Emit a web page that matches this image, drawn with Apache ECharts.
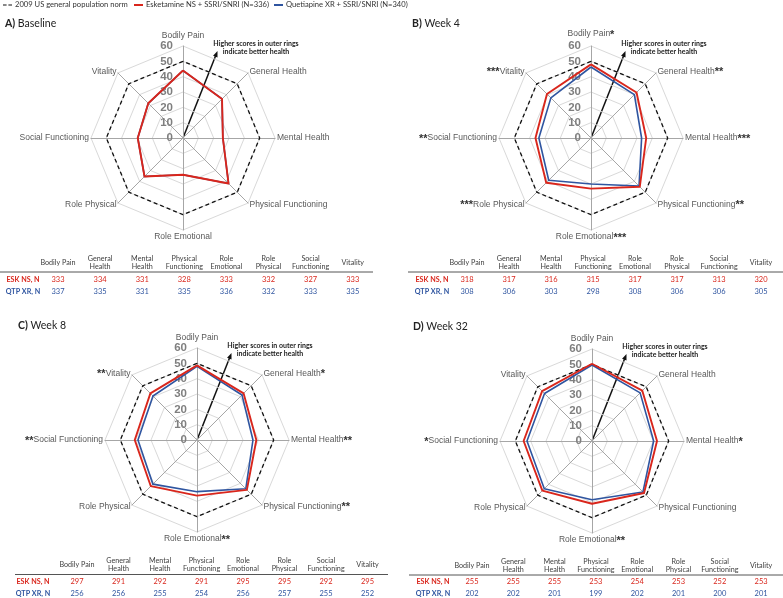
<!DOCTYPE html>
<html>
<head>
<meta charset="utf-8">
<script src="https://cdn.jsdelivr.net/npm/echarts@6/dist/echarts.min.js"></script>
<style>
  html, body { margin: 0; padding: 0; background: #fff; }
  #chart { width: 783px; height: 598px; }
</style>
</head>
<body>
<div id="chart"></div>
<script>
// SF-36 domains, clockwise from the top
var dims = ['Bodily Pain', 'General Health', 'Mental Health', 'Physical Functioning',
            'Role Emotional', 'Role Physical', 'Social Functioning', 'Vitality'];
var headers = ['Bodily Pain', 'General\nHealth', 'Mental\nHealth', 'Physical\nFunctioning',
               'Role\nEmotional', 'Role\nPhysical', 'Social\nFunctioning', 'Vitality'];
var ticks = [0, 10, 20, 30, 40, 50, 60];

var normName = '2009 US general population norm';
var eskName = 'Esketamine NS + SSRI/SNRI (N=336)';
var qtpName = 'Quetiapine XR + SSRI/SNRI (N=340)';

var norm = [50, 50, 50, 50, 50, 50, 50, 50];

// scores per panel (same order as dims)
var eskBase = [44, 36, 26, 42, 24, 35.5, 29.5, 32];
var qtpBase = [44, 36, 26, 42, 24, 35.5, 29.5, 32];
var eskW4 = [48, 42, 36, 45, 33, 41.3, 36.2, 40.6];
var qtpW4 = [46.3, 40, 33, 44.3, 30, 39, 34, 37];
var eskW8 = [48.7, 43, 38.7, 46, 36.3, 42.6, 40.6, 43];
var qtpW8 = [48, 41.5, 36.5, 45, 33.7, 40.7, 38.5, 40.6];
var eskW32 = [50.4, 46.4, 42.4, 48, 40.9, 45.8, 44.6, 46];
var qtpW32 = [49.6, 44.4, 40.2, 47, 38.3, 44, 42.4, 43.8];

// significance markers
var starsBase = ['', '', '', '', '', '', '', ''];
var starsW4 = ['*', '**', '***', '**', '***', '***', '**', '***'];
var starsW8 = ['', '*', '**', '**', '**', '', '**', '**'];
var starsW32 = ['', '', '*', '', '**', '', '*', ''];

// N per domain
var eskNBase = [333, 334, 331, 328, 333, 332, 327, 333];
var qtpNBase = [337, 335, 331, 335, 336, 332, 333, 335];
var eskNW4 = [318, 317, 316, 315, 317, 317, 313, 320];
var qtpNW4 = [308, 306, 303, 298, 308, 306, 306, 305];
var eskNW8 = [297, 291, 292, 291, 295, 295, 292, 295];
var qtpNW8 = [256, 256, 255, 254, 256, 257, 255, 252];
var eskNW32 = [255, 255, 255, 253, 254, 253, 252, 253];
var qtpNW32 = [202, 202, 201, 199, 202, 201, 200, 201];

var red = '#d9261c';
var blue = '#2f55a0';
var nameFont = 'Liberation Sans';
var smallFont = 'Lato';

var panels = [
  { letter: 'A)', title: 'Baseline', tx: 5, ty: 18, center: [183, 138], esk: eskBase, qtp: qtpBase, stars: starsBase,
    eskN: eskNBase, qtpN: qtpNBase, col0: 58, step: 42.1, hy: 263, ry: 272, r1: 279.5, r2: 291.5, lx: 23, x0: 0, x1: 373 },
  { letter: 'B)', title: 'Week 4', tx: 412, ty: 18, center: [591, 138], esk: eskW4, qtp: qtpW4, stars: starsW4,
    eskN: eskNW4, qtpN: qtpNW4, col0: 467, step: 42, hy: 263, ry: 272, r1: 279.5, r2: 291.5, lx: 432, x0: 408, x1: 783 },
  { letter: 'C)', title: 'Week 8', tx: 18, ty: 320, center: [197, 440], esk: eskW8, qtp: qtpW8, stars: starsW8,
    eskN: eskNW8, qtpN: qtpNW8, col0: 77, step: 41.5, hy: 564.5, ry: 574.5, r1: 581.5, r2: 593.5, lx: 33, x0: 15, x1: 388 },
  { letter: 'D)', title: 'Week 32', tx: 413, ty: 321, center: [592, 441], esk: eskW32, qtp: qtpW32, stars: starsW32,
    eskN: eskNW32, qtpN: qtpNW32, col0: 472, step: 41.3, hy: 565.5, ry: 575, r1: 582, r2: 594, lx: 433, x0: 409, x1: 783 }
];

// echarts radar runs counter-clockwise, so feed the domains in reverse after the first
var order = [0, 7, 6, 5, 4, 3, 2, 1];
var leftSide = { 5: 1, 6: 1, 7: 1 };
function reorder(arr) { return order.map(function (k) { return arr[k]; }); }

function makeFormatter(stars) {
  return function (name) {
    var k = dims.indexOf(name);
    var s = stars[k];
    if (!s) return '{n|' + name + '}';
    return leftSide[k] ? '{s|' + s + '}{n|' + name + '}' : '{n|' + name + '}{s|' + s + '}';
  };
}

var radars = panels.map(function (p) {
  return {
    center: p.center,
    radius: 92,
    startAngle: 90,
    splitNumber: 6,
    shape: 'polygon',
    nameGap: 2,
    indicator: order.map(function (k, j) {
      var ind = { name: dims[k], min: 0, max: 60 };
      if (j === 0) ind.axisLabel = { show: true };
      return ind;
    }),
    axisName: {
      formatter: makeFormatter(p.stars),
      rich: {
        n: { fontSize: 8.5, fontFamily: nameFont, color: '#595959', lineHeight: 10 },
        s: { fontSize: 11, fontWeight: 'bold', fontFamily: nameFont, color: '#333', lineHeight: 1, verticalAlign: 'top' }
      }
    },
    splitLine: { lineStyle: { color: '#d9d9d9', width: 1 } },
    splitArea: { show: false },
    axisLine: { lineStyle: { color: '#a6a6a6', width: 1 } },
    axisTick: { show: false },
    axisLabel: { show: false, color: '#7f7f7f', fontSize: 11.5, fontWeight: 'bold', fontFamily: nameFont, margin: 10 }
  };
});

var series = panels.map(function (p, i) {
  return {
    type: 'radar',
    radarIndex: i,
    symbol: 'none',
    silent: true,
    data: [
      { name: normName, value: reorder(norm), lineStyle: { color: '#111', type: [4, 3], width: 1.3 }, itemStyle: { color: '#111' } },
      { name: qtpName, value: reorder(p.qtp), lineStyle: { color: blue, width: 1.6 }, itemStyle: { color: blue } },
      { name: eskName, value: reorder(p.esk), lineStyle: { color: red, width: 1.9 }, itemStyle: { color: red } }
    ]
  };
});

var titles = panels.map(function (p) {
  return {
    text: '{b|' + p.letter + '} ' + p.title,
    left: p.tx, top: p.ty, padding: 0,
    textStyle: {
      fontSize: 10.5, fontWeight: 'normal', color: '#222', fontFamily: 'Lato',
      rich: { b: { fontSize: 10.5, fontWeight: 'bold', color: '#222', fontFamily: 'Lato' } }
    }
  };
});

// one legend per entry so each sits where the reference has it
var legendItems = [
  { name: normName, icon: 'path://M0,0H4V1H0Z M6,0H10V1H6Z', color: '#111', left: 3 },
  { name: eskName, icon: 'rect', color: red, left: 134 },
  { name: qtpName, icon: 'rect', color: blue, left: 274 }
];
var legends = legendItems.map(function (it) {
  return {
    left: it.left, top: 1, padding: 0,
    itemWidth: 9, itemHeight: 2,
    selectedMode: false,
    textStyle: { fontSize: 7.6, color: '#333', fontFamily: smallFont, padding: [0, 0, 0, -2] },
    data: [{ name: it.name, icon: it.icon, itemStyle: { color: it.color } }]
  };
});

// tables + arrow notes
var graphics = [];
panels.forEach(function (p) {
  headers.forEach(function (h, j) {
    var x = p.col0 + j * p.step;
    graphics.push({ type: 'text', x: x, y: p.hy, silent: true,
      style: { text: h, fill: '#404040', fontSize: 7.2, fontFamily: smallFont, align: 'center', verticalAlign: 'middle', lineHeight: 8 } });
    graphics.push({ type: 'text', x: x, y: p.r1, silent: true,
      style: { text: String(p.eskN[j]), fill: red, fontSize: 7.5, fontFamily: smallFont, align: 'center', verticalAlign: 'middle' } });
    graphics.push({ type: 'text', x: x, y: p.r2, silent: true,
      style: { text: String(p.qtpN[j]), fill: blue, fontSize: 7.5, fontFamily: smallFont, align: 'center', verticalAlign: 'middle' } });
  });
  graphics.push({ type: 'line', silent: true, shape: { x1: p.x0, y1: p.ry, x2: p.x1, y2: p.ry },
    style: { stroke: '#555', lineWidth: 1 } });
  graphics.push({ type: 'text', x: p.lx, y: p.r1, silent: true,
    style: { text: 'ESK NS, N', fill: red, fontSize: 7.2, fontWeight: 'bold', fontFamily: smallFont, align: 'center', verticalAlign: 'middle' } });
  graphics.push({ type: 'text', x: p.lx, y: p.r2, silent: true,
    style: { text: 'QTP XR, N', fill: blue, fontSize: 7.2, fontWeight: 'bold', fontFamily: smallFont, align: 'center', verticalAlign: 'middle' } });

  // arrow from the centre outwards
  var cx = p.center[0], cy = p.center[1];
  var tx = cx + 34.5, ty = cy - 87;
  var len = Math.sqrt(34.5 * 34.5 + 87 * 87);
  var ux = 34.5 / len, uy = -87 / len;
  var nx = -uy, ny = ux;
  graphics.push({ type: 'line', silent: true, shape: { x1: cx, y1: cy, x2: tx - ux * 4, y2: ty - uy * 4 },
    style: { stroke: '#111', lineWidth: 1.5 } });
  graphics.push({ type: 'polygon', silent: true,
    shape: { points: [[tx, ty], [tx - ux * 6 + nx * 2.4, ty - uy * 6 + ny * 2.4], [tx - ux * 6 - nx * 2.4, ty - uy * 6 - ny * 2.4]] },
    style: { fill: '#111' } });
  graphics.push({ type: 'text', x: cx + 73, y: cy - 90, silent: true,
    style: { text: 'Higher scores in outer rings\nindicate better health', fill: '#222', fontSize: 7, fontWeight: 'bold',
      fontFamily: smallFont, align: 'center', verticalAlign: 'middle', lineHeight: 8 } });
});

var chart = echarts.init(document.getElementById('chart'), null, { renderer: 'canvas' });
chart.setOption({
  animation: false,
  backgroundColor: '#fff',
  title: titles,
  legend: legends,
  radar: radars,
  series: series,
  graphic: graphics
});
</script>
</body>
</html>
